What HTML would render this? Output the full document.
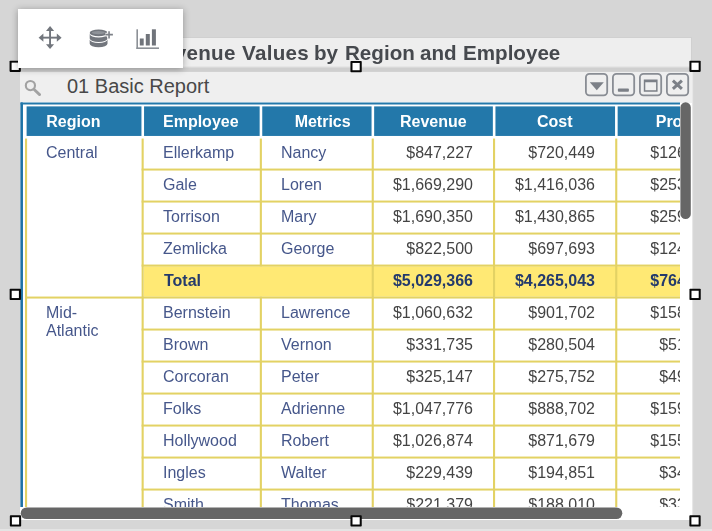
<!DOCTYPE html>
<html><head><meta charset="utf-8"><title>Revenue Values by Region and Employee</title>
<style>
html,body{margin:0;padding:0}
body{width:712px;height:531px;overflow:hidden;background:#d6d6d6;position:relative;font-family:"Liberation Sans",sans-serif;}
.a{position:absolute}
.c,.h,.tt{will-change:transform}
.c{position:absolute;white-space:nowrap;font-size:16px;line-height:17.7px;color:#46578b}
.n{color:#444;text-align:right}
.t{color:#243a6c;font-weight:bold}
.h{position:absolute;color:#fff;font-weight:bold;font-size:16px;line-height:18px;text-align:center;white-space:nowrap}
.tt{top:38.3px;font-weight:bold;font-size:20.6px;line-height:30px;color:#46494e;white-space:nowrap}
.v{position:absolute;background:#e3d264}
.hl{position:absolute;background:#e3d264}
.hd{position:absolute;width:6.7px;height:6.7px;border:2px solid #050505;background:#fff}
.wb{position:absolute;top:72.4px;width:19.5px;height:19.5px;border:1.8px solid #898d94;border-radius:4px;background:#efefef}
</style></head><body>

<div class="a" style="left:0;top:529px;width:712px;height:2px;background:#e4e4e4"></div>
<div class="a" style="left:20.5px;top:37.5px;width:670.5px;height:29px;background:#eeeeee;box-shadow:0 0 0 0.8px #cfcfcf"></div>
<div class="a tt" style="left:148.3px;letter-spacing:0.25px">Revenue</div>
<div class="a tt" style="left:241.5px;letter-spacing:0.30px">Values</div>
<div class="a tt" style="left:314.0px;letter-spacing:0.00px">by</div>
<div class="a tt" style="left:344.7px;letter-spacing:0.00px">Region</div>
<div class="a tt" style="left:419.6px;letter-spacing:0.00px">and</div>
<div class="a tt" style="left:462.9px;letter-spacing:0.00px">Employee</div>
<svg class="a" style="left:20px;top:65px" width="673" height="8" viewBox="0 0 673 8"><rect x="0.3" y="1.2" width="671.2" height="1.5" fill="#e4e4e4"/><rect x="0" y="2.6" width="672.4" height="4" fill="#cfcfcf"/></svg>
<div class="a" style="left:20px;top:71.5px;width:672px;height:448px;background:#fff"></div>
<div class="a" style="left:20px;top:71.5px;width:672px;height:31px;background:#efefef"></div>
<div class="a" style="left:67px;top:73.5px;font-size:20px;line-height:24px;color:#484848;white-space:nowrap">01 Basic Report</div>
<svg class="a" style="left:21.6px;top:78.2px" width="22" height="20" viewBox="0 0 22 20"><circle cx="8.4" cy="7.6" r="4.6" fill="none" stroke="#a2a2a2" stroke-width="2.1"/><path d="M11.9 11.3 L17.6 16.6" stroke="#a2a2a2" stroke-width="2.8" stroke-linecap="round"/></svg>
<svg class="a" style="left:585.2px;top:72.6px" width="24" height="24" viewBox="0 0 24 24"><rect x="0.9" y="0.9" width="21.3" height="21.4" rx="3.6" fill="#efefef" stroke="#898d94" stroke-width="1.8"/></svg>
<svg class="a" style="left:612.4px;top:72.6px" width="24" height="24" viewBox="0 0 24 24"><rect x="0.9" y="0.9" width="21.3" height="21.4" rx="3.6" fill="#efefef" stroke="#898d94" stroke-width="1.8"/></svg>
<svg class="a" style="left:639.2px;top:72.6px" width="24" height="24" viewBox="0 0 24 24"><rect x="0.9" y="0.9" width="21.3" height="21.4" rx="3.6" fill="#efefef" stroke="#898d94" stroke-width="1.8"/></svg>
<svg class="a" style="left:666.4px;top:72.6px" width="24" height="24" viewBox="0 0 24 24"><rect x="0.9" y="0.9" width="21.3" height="21.4" rx="3.6" fill="#efefef" stroke="#898d94" stroke-width="1.8"/></svg>
<svg class="a" style="left:585.2px;top:72.6px" width="23.4" height="23.4" viewBox="0 0 23.4 23.4"><path d="M4.8 9.3 L18.8 9.3 L11.8 17.3 Z" fill="#7c8087"/></svg>
<svg class="a" style="left:612.4px;top:72.6px" width="23.4" height="23.4" viewBox="0 0 23.4 23.4"><rect x="5.9" y="15.6" width="11" height="3.1" rx="0.8" fill="#7c8087"/></svg>
<svg class="a" style="left:639.2px;top:72.6px" width="23.4" height="23.4" viewBox="0 0 23.4 23.4"><path d="M4.8 6.6 H18.6 V18.8 H4.8 Z M6.3 9.3 V17.3 H17.1 V9.3 Z" fill="#7c8087" fill-rule="evenodd"/></svg>
<svg class="a" style="left:666.4px;top:72.6px" width="23.4" height="23.4" viewBox="0 0 23.4 23.4"><path d="M6.9 7.6 L15.9 15.8 M15.9 7.6 L6.9 15.8" stroke="#7c8087" stroke-width="3" stroke-linecap="butt"/></svg>
<div class="a" style="left:20px;top:102px;width:660px;height:405px;overflow:hidden;background:#fff">
<svg class="a" style="left:0;top:0" width="760" height="600" viewBox="0 0 760 600"><rect x="0.60" y="0.50" width="2.40" height="600.00" fill="#2378aa"/><rect x="0.60" y="0.50" width="1.00" height="600.00" fill="#1f6fa1"/><rect x="0.60" y="0.50" width="900.00" height="2.00" fill="#2378aa"/><rect x="6.60" y="4.40" width="114.85" height="29.55" fill="#2378aa"/><rect x="124.05" y="4.40" width="115.60" height="29.55" fill="#2378aa"/><rect x="242.25" y="4.40" width="109.30" height="29.55" fill="#2378aa"/><rect x="354.15" y="4.40" width="118.70" height="29.55" fill="#2378aa"/><rect x="475.45" y="4.40" width="119.60" height="29.55" fill="#2378aa"/><rect x="597.65" y="4.40" width="119.20" height="29.55" fill="#2378aa"/><rect x="123.70" y="164.35" width="593.30" height="30.30" fill="#ffe974"/><rect x="123.70" y="420.35" width="593.30" height="30.30" fill="#ffe974"/><rect x="5.00" y="36.55" width="2.10" height="416.00" fill="#e3d264"/><rect x="121.60" y="36.55" width="2.10" height="416.00" fill="#e3d264"/><rect x="239.80" y="36.55" width="2.10" height="127.80" fill="#e3d264"/><rect x="239.80" y="194.65" width="2.10" height="225.70" fill="#e3d264"/><rect x="239.80" y="450.65" width="2.10" height="1.90" fill="#e3d264"/><rect x="351.70" y="36.55" width="2.10" height="416.00" fill="#e3d264"/><rect x="473.00" y="36.55" width="2.10" height="416.00" fill="#e3d264"/><rect x="595.20" y="36.55" width="2.10" height="416.00" fill="#e3d264"/><rect x="717.00" y="36.55" width="2.10" height="416.00" fill="#e3d264"/><rect x="121.60" y="66.55" width="597.50" height="2.00" fill="#e3d264"/><rect x="121.60" y="98.55" width="597.50" height="2.00" fill="#e3d264"/><rect x="121.60" y="130.55" width="597.50" height="2.00" fill="#e3d264"/><rect x="121.60" y="162.55" width="597.50" height="2.00" fill="#e3d264"/><rect x="5.00" y="194.55" width="714.10" height="2.00" fill="#e3d264"/><rect x="121.60" y="226.55" width="597.50" height="2.00" fill="#e3d264"/><rect x="121.60" y="258.55" width="597.50" height="2.00" fill="#e3d264"/><rect x="121.60" y="290.55" width="597.50" height="2.00" fill="#e3d264"/><rect x="121.60" y="322.55" width="597.50" height="2.00" fill="#e3d264"/><rect x="121.60" y="354.55" width="597.50" height="2.00" fill="#e3d264"/><rect x="121.60" y="386.55" width="597.50" height="2.00" fill="#e3d264"/><rect x="121.60" y="418.55" width="597.50" height="2.00" fill="#e3d264"/><rect x="5.00" y="450.55" width="714.10" height="2.00" fill="#e3d264"/></svg>
<div class="h" style="left:-4.2px;top:10.9px;width:114.8px">Region</div>
<div class="h" style="left:122.5px;top:10.9px;width:115.6px">Employee</div>
<div class="h" style="left:248.1px;top:10.9px;width:109.3px">Metrics</div>
<div class="h" style="left:353.5px;top:10.9px;width:118.7px">Revenue</div>
<div class="h" style="left:475.1px;top:10.9px;width:119.6px">Cost</div>
<div class="h" style="left:597.4px;top:10.9px;width:119.2px">Profit</div>
<div class="c" style="left:26.3px;top:41.9px">Central</div>
<div class="c" style="left:142.9px;top:41.9px">Ellerkamp</div>
<div class="c" style="left:261.1px;top:41.9px">Nancy</div>
<div class="c n" style="left:343.0px;top:41.9px;width:110.0px">$847,227</div>
<div class="c n" style="left:465.2px;top:41.9px;width:110.0px">$720,449</div>
<div class="c n" style="left:587.0px;top:41.9px;width:110.0px">$126,778</div>
<div class="c" style="left:142.9px;top:73.9px">Gale</div>
<div class="c" style="left:261.1px;top:73.9px">Loren</div>
<div class="c n" style="left:343.0px;top:73.9px;width:110.0px">$1,669,290</div>
<div class="c n" style="left:465.2px;top:73.9px;width:110.0px">$1,416,036</div>
<div class="c n" style="left:587.0px;top:73.9px;width:110.0px">$253,254</div>
<div class="c" style="left:142.9px;top:105.9px">Torrison</div>
<div class="c" style="left:261.1px;top:105.9px">Mary</div>
<div class="c n" style="left:343.0px;top:105.9px;width:110.0px">$1,690,350</div>
<div class="c n" style="left:465.2px;top:105.9px;width:110.0px">$1,430,865</div>
<div class="c n" style="left:587.0px;top:105.9px;width:110.0px">$259,485</div>
<div class="c" style="left:142.9px;top:137.9px">Zemlicka</div>
<div class="c" style="left:261.1px;top:137.9px">George</div>
<div class="c n" style="left:343.0px;top:137.9px;width:110.0px">$822,500</div>
<div class="c n" style="left:465.2px;top:137.9px;width:110.0px">$697,693</div>
<div class="c n" style="left:587.0px;top:137.9px;width:110.0px">$124,807</div>
<div class="c t" style="left:144.4px;top:169.9px">Total</div>
<div class="c n t" style="left:343.0px;top:169.9px;width:110.0px">$5,029,366</div>
<div class="c n t" style="left:465.2px;top:169.9px;width:110.0px">$4,265,043</div>
<div class="c n t" style="left:587.0px;top:169.9px;width:110.0px">$764,323</div>
<div class="c" style="left:26.3px;top:201.9px">Mid-<br>Atlantic</div>
<div class="c" style="left:142.9px;top:201.9px">Bernstein</div>
<div class="c" style="left:261.1px;top:201.9px">Lawrence</div>
<div class="c n" style="left:343.0px;top:201.9px;width:110.0px">$1,060,632</div>
<div class="c n" style="left:465.2px;top:201.9px;width:110.0px">$901,702</div>
<div class="c n" style="left:587.0px;top:201.9px;width:110.0px">$158,930</div>
<div class="c" style="left:142.9px;top:233.9px">Brown</div>
<div class="c" style="left:261.1px;top:233.9px">Vernon</div>
<div class="c n" style="left:343.0px;top:233.9px;width:110.0px">$331,735</div>
<div class="c n" style="left:465.2px;top:233.9px;width:110.0px">$280,504</div>
<div class="c n" style="left:587.0px;top:233.9px;width:110.0px">$51,231</div>
<div class="c" style="left:142.9px;top:265.9px">Corcoran</div>
<div class="c" style="left:261.1px;top:265.9px">Peter</div>
<div class="c n" style="left:343.0px;top:265.9px;width:110.0px">$325,147</div>
<div class="c n" style="left:465.2px;top:265.9px;width:110.0px">$275,752</div>
<div class="c n" style="left:587.0px;top:265.9px;width:110.0px">$49,395</div>
<div class="c" style="left:142.9px;top:297.9px">Folks</div>
<div class="c" style="left:261.1px;top:297.9px">Adrienne</div>
<div class="c n" style="left:343.0px;top:297.9px;width:110.0px">$1,047,776</div>
<div class="c n" style="left:465.2px;top:297.9px;width:110.0px">$888,702</div>
<div class="c n" style="left:587.0px;top:297.9px;width:110.0px">$159,074</div>
<div class="c" style="left:142.9px;top:329.9px">Hollywood</div>
<div class="c" style="left:261.1px;top:329.9px">Robert</div>
<div class="c n" style="left:343.0px;top:329.9px;width:110.0px">$1,026,874</div>
<div class="c n" style="left:465.2px;top:329.9px;width:110.0px">$871,679</div>
<div class="c n" style="left:587.0px;top:329.9px;width:110.0px">$155,195</div>
<div class="c" style="left:142.9px;top:361.9px">Ingles</div>
<div class="c" style="left:261.1px;top:361.9px">Walter</div>
<div class="c n" style="left:343.0px;top:361.9px;width:110.0px">$229,439</div>
<div class="c n" style="left:465.2px;top:361.9px;width:110.0px">$194,851</div>
<div class="c n" style="left:587.0px;top:361.9px;width:110.0px">$34,588</div>
<div class="c" style="left:142.9px;top:393.9px">Smith</div>
<div class="c" style="left:261.1px;top:393.9px">Thomas</div>
<div class="c n" style="left:343.0px;top:393.9px;width:110.0px">$221,379</div>
<div class="c n" style="left:465.2px;top:393.9px;width:110.0px">$188,010</div>
<div class="c n" style="left:587.0px;top:393.9px;width:110.0px">$33,369</div>
<div class="c t" style="left:144.4px;top:425.8px">Total</div>
<div class="c n t" style="left:343.0px;top:425.8px;width:110.0px">$4,243,582</div>
<div class="c n t" style="left:465.2px;top:425.8px;width:110.0px">$3,601,200</div>
<div class="c n t" style="left:587.0px;top:425.8px;width:110.0px">$642,382</div>
</div>
<svg class="a" style="left:692px;top:72px" width="2" height="448" viewBox="0 0 2 448"><rect x="0" y="0" width="1.1" height="447.5" fill="#e7e7e7"/></svg>
<svg class="a" style="left:679px;top:102px" width="13" height="119" viewBox="0 0 13 119"><rect x="1.4" y="0.2" width="10.4" height="116.9" rx="5.2" fill="#666"/></svg>
<svg class="a" style="left:20px;top:506px" width="604" height="14" viewBox="0 0 604 14"><rect x="0.7" y="1.4" width="601.6" height="11.7" rx="5.85" fill="#666"/></svg>
<svg class="a" style="left:8px;top:59px" width="15" height="15" viewBox="0 0 15 15"><rect x="1.55" y="1.70" width="11.3" height="11.2" rx="0.8" fill="#080808"/><rect x="3.60" y="3.65" width="7.2" height="7.3" fill="#fff"/></svg>
<svg class="a" style="left:349px;top:59px" width="15" height="15" viewBox="0 0 15 15"><rect x="1.45" y="2.00" width="11.3" height="11.2" rx="0.8" fill="#080808"/><rect x="3.50" y="3.95" width="7.2" height="7.3" fill="#fff"/></svg>
<svg class="a" style="left:688px;top:59px" width="15" height="15" viewBox="0 0 15 15"><rect x="1.40" y="1.70" width="11.3" height="11.2" rx="0.8" fill="#080808"/><rect x="3.45" y="3.65" width="7.2" height="7.3" fill="#fff"/></svg>
<svg class="a" style="left:8px;top:287px" width="15" height="15" viewBox="0 0 15 15"><rect x="1.65" y="1.80" width="11.3" height="11.2" rx="0.8" fill="#080808"/><rect x="3.70" y="3.75" width="7.2" height="7.3" fill="#fff"/></svg>
<svg class="a" style="left:688px;top:287px" width="15" height="15" viewBox="0 0 15 15"><rect x="1.45" y="1.80" width="11.3" height="11.2" rx="0.8" fill="#080808"/><rect x="3.50" y="3.75" width="7.2" height="7.3" fill="#fff"/></svg>
<svg class="a" style="left:8px;top:513px" width="15" height="15" viewBox="0 0 15 15"><rect x="1.85" y="2.30" width="11.3" height="11.2" rx="0.8" fill="#080808"/><rect x="3.90" y="4.25" width="7.2" height="7.3" fill="#fff"/></svg>
<svg class="a" style="left:349px;top:513px" width="15" height="15" viewBox="0 0 15 15"><rect x="1.45" y="2.25" width="11.3" height="11.2" rx="0.8" fill="#080808"/><rect x="3.50" y="4.20" width="7.2" height="7.3" fill="#fff"/></svg>
<svg class="a" style="left:688px;top:513px" width="15" height="15" viewBox="0 0 15 15"><rect x="1.35" y="2.30" width="11.3" height="11.2" rx="0.8" fill="#080808"/><rect x="3.40" y="4.25" width="7.2" height="7.3" fill="#fff"/></svg>
<div class="a" style="left:18.2px;top:9px;width:164.8px;height:59px;background:#fff;box-shadow:0 1px 7px rgba(0,0,0,0.32)"></div>
<svg class="a" style="left:36px;top:24px" width="28" height="28" viewBox="0 0 28 28"><g fill="#72767d"><rect x="13.1" y="5" width="1.9" height="17.4"/><rect x="5.4" y="12.7" width="17.4" height="1.9"/><path d="M14.05 2.1 L18.1 6.9 H10 Z"/><path d="M14.05 25.1 L18.1 20.3 H10 Z"/><path d="M2.6 13.65 L7.4 9.6 V17.7 Z"/><path d="M25.6 13.65 L20.8 9.6 V17.7 Z"/></g></svg>
<svg class="a" style="left:86px;top:26px" width="30" height="24" viewBox="0 0 30 24"><g fill="#72767d"><ellipse cx="12.6" cy="6.9" rx="8.9" ry="3.4"/><path d="M3.7 8.0 A8.9 3.4 0 0 0 21.5 8.0 V12.5 A8.9 3.4 0 0 1 3.7 12.5 Z"/><path d="M3.7 13.5 A8.9 3.4 0 0 0 21.5 13.5 V17.8 A8.9 3.4 0 0 1 3.7 17.8 Z"/></g><ellipse cx="12.4" cy="6.6" rx="6.5" ry="1.7" fill="#8f9399"/><path d="M23.05 5.2 V12.4 M19.4 8.65 H26.9" stroke="#fff" stroke-width="3.6" stroke-linecap="butt"/><path d="M23.05 5.2 V12.4 M19.4 8.65 H26.9" stroke="#7d8188" stroke-width="1.6"/></svg>
<svg class="a" style="left:134px;top:26px" width="28" height="26" viewBox="0 0 28 26"><g fill="#8c9096"><rect x="2.4" y="3.3" width="1.6" height="19.7"/><rect x="2.4" y="21.4" width="22.6" height="1.6"/></g><g fill="#70747b"><rect x="5.8" y="12.5" width="3.9" height="7"/><rect x="11.8" y="8" width="4" height="11.5"/><rect x="17.9" y="3.3" width="4" height="16.2"/></g></svg>
</body></html>
